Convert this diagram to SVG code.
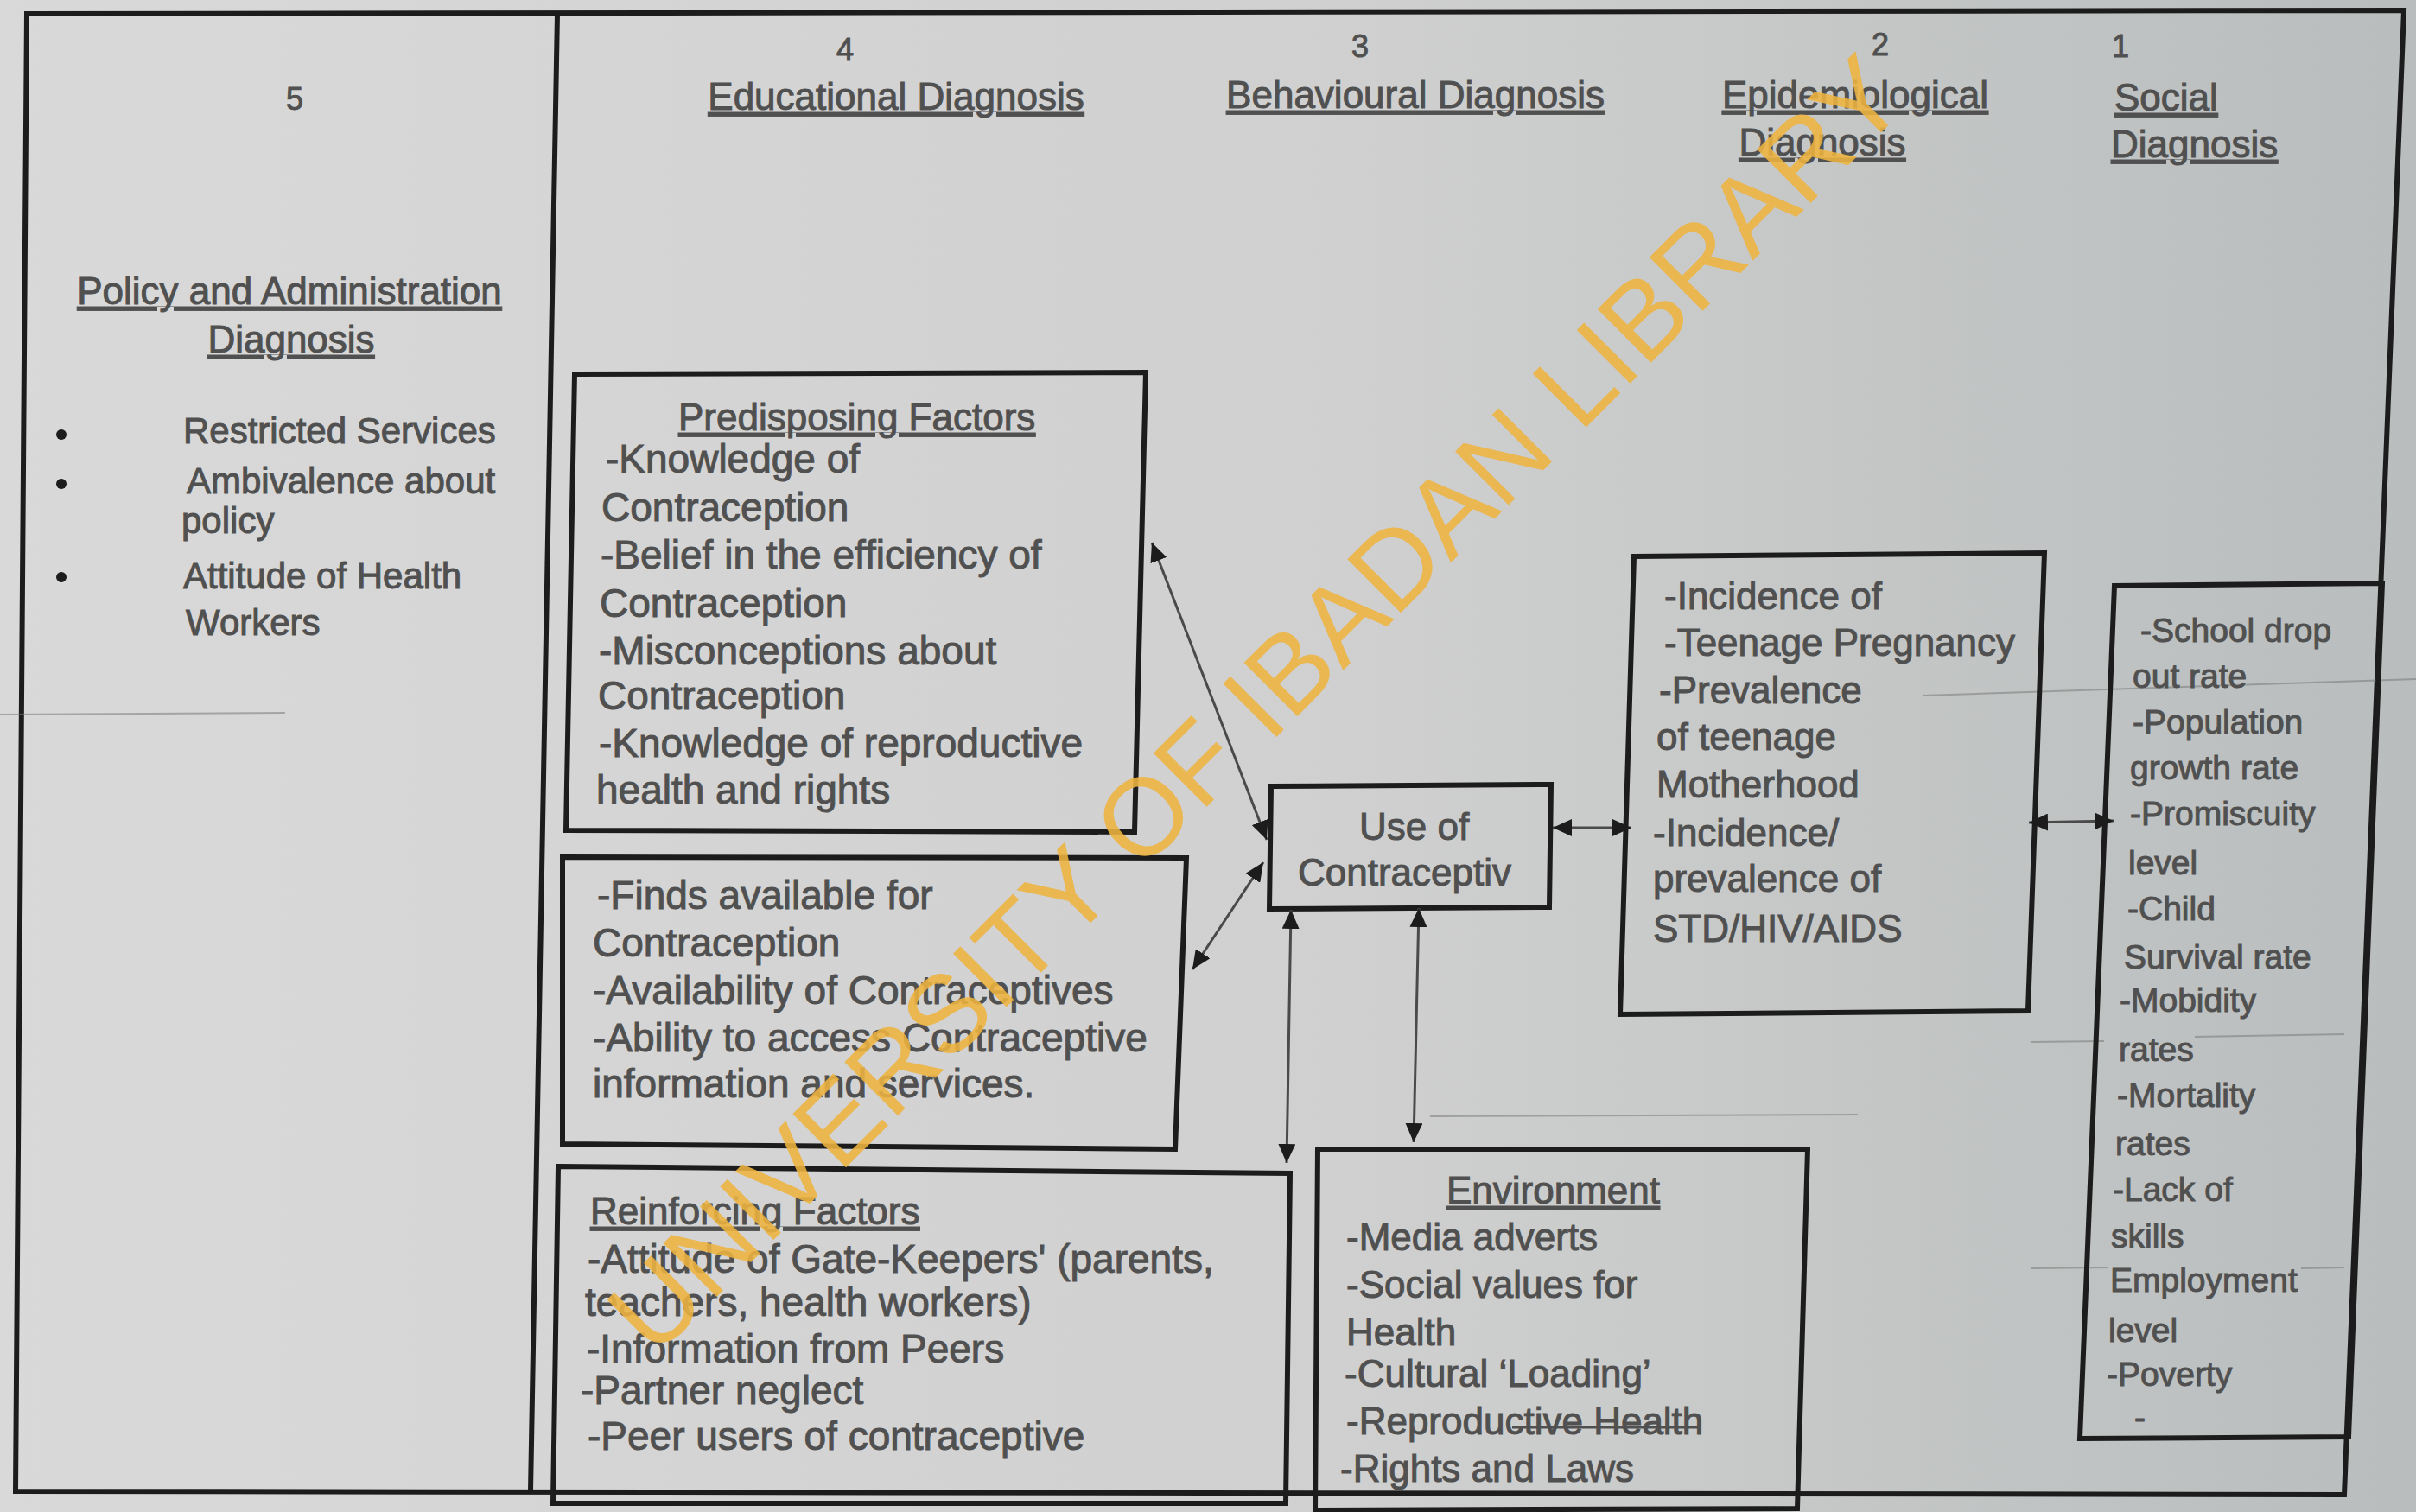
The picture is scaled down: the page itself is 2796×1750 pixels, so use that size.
<svg xmlns="http://www.w3.org/2000/svg" width="2796" height="1750" viewBox="0 0 2796 1750">
<defs>
<style>
.t{font-family:"Liberation Sans",Arial,sans-serif;fill:#505050;stroke:#505050;stroke-width:1px}
.hd{font-size:44px;text-decoration:underline}
.num{font-size:36px;text-anchor:middle}
.f42{font-size:42px}
.f44{font-size:44px}
.f46{font-size:46px}
.f40{font-size:39px}
.box{fill:none;stroke:#1c1c1c;stroke-width:6;stroke-linejoin:miter}
.frame{fill:none;stroke:#1c1c1c;stroke-width:6}
.conn{fill:none;stroke:#4a4a4a;stroke-width:3}
.faint{fill:none;stroke:#7a7a7a;stroke-width:2;opacity:0.55}
.wm{font-family:"Liberation Sans",Arial,sans-serif;font-size:127px;fill:#efb440;opacity:0.88}
</style>
<linearGradient id="bg" x1="0" y1="0" x2="1" y2="0">
<stop offset="0" stop-color="#d9d9d9"/>
<stop offset="0.55" stop-color="#d0d0d0"/>
<stop offset="1" stop-color="#b9bdbd"/>
</linearGradient>
<marker id="ah" markerUnits="userSpaceOnUse" markerWidth="24" markerHeight="20" refX="22" refY="10" orient="auto-start-reverse">
<path d="M0,0 L22,10 L0,20 Z" fill="#1c1c1c"/>
</marker>
</defs>
<rect x="0" y="0" width="2796" height="1750" fill="url(#bg)"/>

<g id="frame">
<path class="frame" d="M31,16 L2782,12 L2713,1730 L18,1726 Z"/>
<path class="frame" d="M645,16 L614,1726"/>
</g>

<g id="scan-lines">
<path class="faint" d="M0,827 L330,825"/>
<path class="faint" d="M2225,805 L2796,786"/>
<path class="faint" d="M1655,1292 L2150,1290"/>
<path class="faint" d="M2350,1206 L2435,1205 M2540,1200 L2713,1197"/>
<path class="faint" d="M2350,1468 L2440,1467 M2663,1468 L2713,1467"/>
</g>

<g id="col-policy">
<text class="t num" x="341" y="127">5</text>
<text class="t hd" x="335" y="352" text-anchor="middle">Policy and Administration</text>
<text class="t hd" x="337" y="408" text-anchor="middle">Diagnosis</text>
<circle cx="71" cy="503" r="6" fill="#1c1c1c"/>
<circle cx="71" cy="560" r="6" fill="#1c1c1c"/>
<circle cx="71" cy="668" r="6" fill="#1c1c1c"/>
<text class="t f42" x="212" y="513">Restricted Services</text>
<text class="t f42" x="216" y="571">Ambivalence about</text>
<text class="t f42" x="210" y="617">policy</text>
<text class="t f42" x="212" y="681">Attitude of Health</text>
<text class="t f42" x="215" y="735">Workers</text>
</g>

<g id="header-educational">
<text class="t num" x="978" y="70">4</text>
<text class="t hd" x="1037" y="127" text-anchor="middle">Educational Diagnosis</text>
</g>
<g id="header-behavioural">
<text class="t num" x="1574" y="66">3</text>
<text class="t hd" x="1638" y="125" text-anchor="middle">Behavioural Diagnosis</text>
</g>
<g id="header-epidemiological">
<text class="t num" x="2176" y="64">2</text>
<text class="t hd" x="2147" y="125" text-anchor="middle">Epidemiological</text>
<text class="t hd" x="2109" y="180" text-anchor="middle">Diagnosis</text>
</g>
<g id="header-social">
<text class="t num" x="2454" y="66">1</text>
<text class="t hd" x="2447" y="128">Social</text>
<text class="t hd" x="2443" y="182">Diagnosis</text>
</g>

<g id="node-predisposing">
<path class="box" d="M665,433 L1326,431 L1313,963 L655,961 Z"/>
<text class="t hd" x="785" y="498">Predisposing Factors</text>
<text class="t f46" x="701" y="547">-Knowledge of</text>
<text class="t f46" x="696" y="603">Contraception</text>
<text class="t f46" x="695" y="658">-Belief in the efficiency of</text>
<text class="t f46" x="694" y="714">Contraception</text>
<text class="t f46" x="693" y="769">-Misconceptions about</text>
<text class="t f46" x="692" y="821">Contraception</text>
<text class="t f46" x="693" y="876">-Knowledge of reproductive</text>
<text class="t f46" x="690" y="930">health and rights</text>
</g>

<g id="node-enabling">
<path class="box" d="M651,992 L1373,993 L1360,1330 L651,1324 Z"/>
<text class="t f46" x="691" y="1052">-Finds available for</text>
<text class="t f46" x="686" y="1107">Contraception</text>
<text class="t f46" x="686" y="1162">-Availability of Contraceptives</text>
<text class="t f46" x="686" y="1217">-Ability to access Contraceptive</text>
<text class="t f46" x="686" y="1270">information and services.</text>
</g>

<g id="node-reinforcing">
<path class="box" d="M646,1350 L1493,1358 L1488,1740 L640,1740 Z"/>
<text class="t hd" x="683" y="1417">Reinforcing Factors</text>
<text class="t f46" x="680" y="1473">-Attitude of Gate-Keepers' (parents,</text>
<text class="t f46" x="677" y="1523">teachers, health workers)</text>
<text class="t f46" x="679" y="1577">-Information from Peers</text>
<text class="t f46" x="672" y="1625">-Partner neglect</text>
<text class="t f46" x="680" y="1678">-Peer users of contraceptive</text>
</g>

<g id="node-use">
<path class="box" d="M1471,910 L1795,908 L1793,1050 L1469,1052 Z"/>
<text class="t f44" x="1573" y="972">Use of</text>
<text class="t f44" x="1502" y="1025">Contraceptiv</text>
</g>

<g id="node-environment">
<path class="box" d="M1525,1330 L2092,1330 L2080,1746 L1522,1748 Z"/>
<text class="t hd" x="1674" y="1393">Environment</text>
<text class="t f44" x="1558" y="1447">-Media adverts</text>
<text class="t f44" x="1558" y="1502">-Social values for</text>
<text class="t f44" x="1558" y="1557">Health</text>
<text class="t f44" x="1556" y="1605">-Cultural ‘Loading’</text>
<text class="t f44" x="1558" y="1660">-Reproductive Health</text>
<path d="M1750,1652 L1965,1652" stroke="#505050" stroke-width="3"/>
<text class="t f44" x="1551" y="1715">-Rights and Laws</text>
</g>

<g id="node-epidemiological">
<path class="box" d="M1891,644 L2366,640 L2347,1170 L1875,1174 Z"/>
<text class="t f44" x="1926" y="705">-Incidence of</text>
<text class="t f44" x="1926" y="759">-Teenage Pregnancy</text>
<text class="t f44" x="1920" y="814">-Prevalence</text>
<text class="t f44" x="1917" y="868">of teenage</text>
<text class="t f44" x="1917" y="923">Motherhood</text>
<text class="t f44" x="1913" y="979">-Incidence/</text>
<text class="t f44" x="1913" y="1032">prevalence of</text>
<text class="t f44" x="1913" y="1090">STD/HIV/AIDS</text>
</g>

<g id="node-social">
<path class="box" d="M2447,678 L2757,675 L2718,1663 L2407,1665 Z"/>
<text class="t f40" x="2477" y="743">-School drop</text>
<text class="t f40" x="2468" y="796">out rate</text>
<text class="t f40" x="2468" y="849">-Population</text>
<text class="t f40" x="2465" y="902">growth rate</text>
<text class="t f40" x="2465" y="955">-Promiscuity</text>
<text class="t f40" x="2463" y="1012">level</text>
<text class="t f40" x="2462" y="1065">-Child</text>
<text class="t f40" x="2458" y="1121">Survival rate</text>
<text class="t f40" x="2453" y="1171">-Mobidity</text>
<text class="t f40" x="2452" y="1228">rates</text>
<text class="t f40" x="2450" y="1281">-Mortality</text>
<text class="t f40" x="2448" y="1337">rates</text>
<text class="t f40" x="2445" y="1390">-Lack of</text>
<text class="t f40" x="2443" y="1444">skills</text>
<text class="t f40" x="2442" y="1495">Employment</text>
<text class="t f40" x="2440" y="1553">level</text>
<text class="t f40" x="2438" y="1604">-Poverty</text>
<text class="t f40" x="2470" y="1654">-</text>
</g>

<g id="connectors">
<path class="conn" d="M1333,628 L1466,972" marker-start="url(#ah)" marker-end="url(#ah)"/>
<path class="conn" d="M1462,998 L1380,1122" marker-start="url(#ah)" marker-end="url(#ah)"/>
<path class="conn" d="M1797,958 L1888,958" marker-start="url(#ah)" marker-end="url(#ah)"/>
<path class="conn" d="M2348,952 L2446,950" marker-start="url(#ah)" marker-end="url(#ah)"/>
<path class="conn" d="M1494,1053 L1489,1346" marker-start="url(#ah)" marker-end="url(#ah)"/>
<path class="conn" d="M1642,1051 L1636,1322" marker-start="url(#ah)" marker-end="url(#ah)"/>
</g>

<g id="watermark">
<text class="wm" transform="translate(1453,815) rotate(-45)" x="0" y="0" text-anchor="middle" dominant-baseline="central">UNIVERSITY OF IBADAN LIBRARY</text>
</g>
</svg>
